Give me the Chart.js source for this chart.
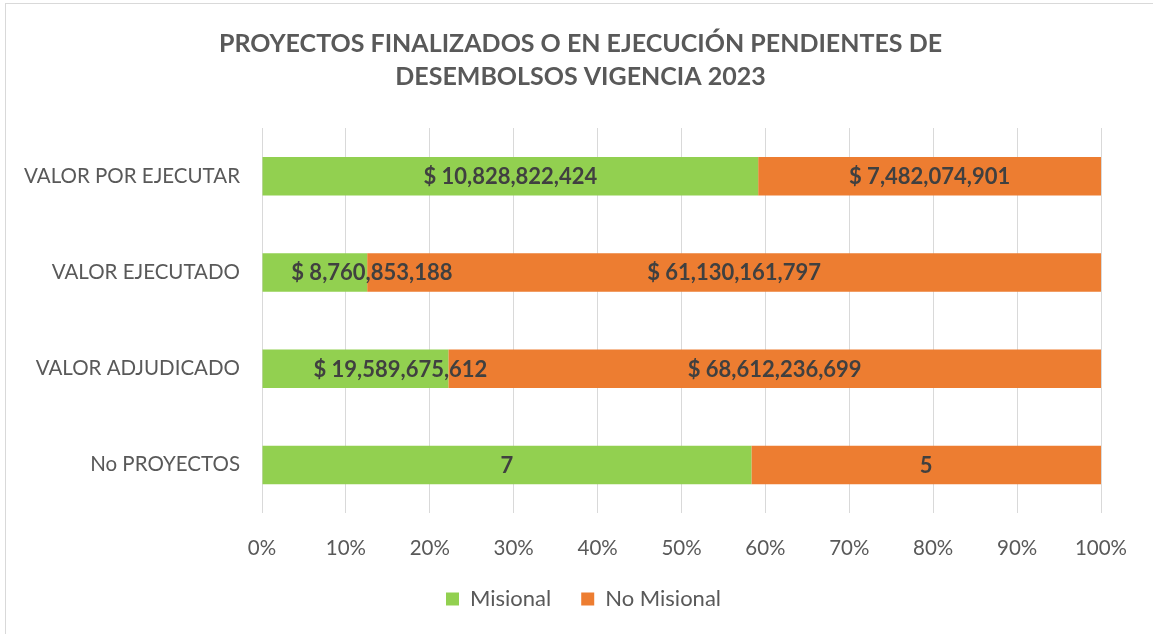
<!DOCTYPE html>
<html>
<head>
<meta charset="utf-8">
<script src="https://cdn.jsdelivr.net/npm/chart.js@4/dist/chart.umd.min.js"></script>
<style>
  html, body { margin: 0; padding: 0; background: #fff; overflow: hidden; }
  #wrap { position: relative; width: 1153px; height: 634px; overflow: hidden; }
  #frame { position: absolute; left: 5px; top: 3px; width: 1160px; height: 640px; border: 1px solid #d9d9d9; pointer-events: none; }
  canvas { position: absolute; left: 0; top: 0; }
</style>
</head>
<body>
<div id="wrap">
  <canvas id="c" width="1153" height="634"></canvas>
  <div id="frame"></div>
</div>
<script>
const categories = ["VALOR POR EJECUTAR", "VALOR EJECUTADO", "VALOR ADJUDICADO", "No PROYECTOS"];
const misional = [10828822424, 8760853188, 19589675612, 7];
const noMisional = [7482074901, 61130161797, 68612236699, 5];
const isCurrency = [true, true, true, false];
const xTickLabels = ["0%", "10%", "20%", "30%", "40%", "50%", "60%", "70%", "80%", "90%", "100%"];
const titleLines = ["PROYECTOS FINALIZADOS O EN EJECUCIÓN PENDIENTES DE", "DESEMBOLSOS VIGENCIA 2023"];

const totals = categories.map((_, i) => misional[i] + noMisional[i]);
const pct = arr => arr.map((v, i) => v / totals[i] * 100);

function fmt(v, i) {
  if (isCurrency[i]) return "$ " + v.toLocaleString("en-US");
  return String(v);
}

const FONT = "Lato, 'Open Sans', sans-serif";

// horizontal nudges (px) of the data labels, as placed in the original chart
const labelShift = [[0, 57, 45, 0], [0, 0, 0, 0]];

const labelPlugin = {
  id: "segLabels",
  afterDatasetsDraw(chart) {
    const ctx = chart.ctx;
    ctx.save();
    ctx.font = "bold 22px " + FONT;
    ctx.fillStyle = "#404040";
    ctx.textAlign = "center";
    ctx.textBaseline = "middle";
    chart.data.datasets.forEach((ds, di) => {
      const meta = chart.getDatasetMeta(di);
      meta.data.forEach((bar, i) => {
        const raw = ds.rawValues[i];
        const x = (bar.x + bar.base) / 2 + labelShift[di][i];
        ctx.fillText(fmt(raw, i), x, bar.y + 1);
      });
    });
    ctx.restore();
  }
};

// centre title and legend over the whole chart frame (not only up to the right padding)
const shiftPlugin = {
  id: "shiftBlocks",
  beforeDraw(chart) {
    if (chart.titleBlock) chart.titleBlock.left = 60;
    if (chart.legend) chart.legend.left = 66;
  }
};

new Chart(document.getElementById("c"), {
  type: "bar",
  data: {
    labels: categories,
    datasets: [
      { label: "Misional", data: pct(misional), rawValues: misional, backgroundColor: "#92D050", borderWidth: 0, barPercentage: 0.4, categoryPercentage: 1 },
      { label: "No Misional", data: pct(noMisional), rawValues: noMisional, backgroundColor: "#ED7D31", borderWidth: 0, barPercentage: 0.4, categoryPercentage: 1 }
    ]
  },
  options: {
    indexAxis: "y",
    responsive: false,
    animation: false,
    devicePixelRatio: 1,
    layout: { padding: { left: 0, right: 52, top: 0, bottom: 14 } },
    plugins: {
      title: {
        display: true,
        text: titleLines,
        color: "#595959",
        font: { family: FONT, size: 25, weight: "bold", lineHeight: 1.32 },
        padding: { top: 27, bottom: 35 }
      },
      legend: {
        position: "bottom",
        labels: {
          color: "#595959",
          font: { family: FONT, size: 22 },
          boxWidth: 13,
          boxHeight: 13,
          padding: 30,
          useBorderRadius: false
        }
      },
      tooltip: { enabled: false }
    },
    scales: {
      x: {
        stacked: true,
        min: 0,
        max: 100,
        ticks: {
          stepSize: 10,
          color: "#595959",
          font: { family: FONT, size: 20.5 },
          padding: 23,
          callback: (v, idx) => xTickLabels[idx]
        },
        grid: { color: "#d9d9d9", lineWidth: 1, drawTicks: false },
        border: { display: false },
        afterFit(scale) { scale.height = 45; }
      },
      y: {
        stacked: true,
        ticks: {
          color: "#595959",
          font: { family: FONT, size: 20.5 },
          padding: 22
        },
        grid: { display: false, drawTicks: false },
        border: { display: false },
        afterFit(scale) { scale.width = 262; }
      }
    }
  },
  plugins: [labelPlugin, shiftPlugin]
});
</script>
</body>
</html>
